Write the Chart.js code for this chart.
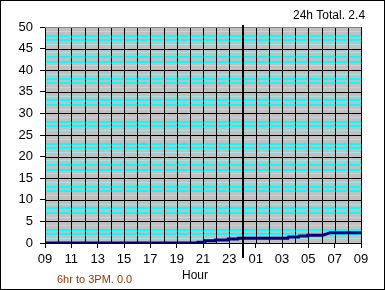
<!DOCTYPE html>
<html>
<head>
<meta charset="utf-8">
<script src="https://cdn.jsdelivr.net/npm/chart.js@4.4.1/dist/chart.umd.min.js"></script>
<style>
  html, body { margin: 0; padding: 0; background: #fff; }
  canvas { display: block; }
</style>
</head>
<body>
<canvas id="rain" width="385" height="290"></canvas>
<script>
// --------- Datos ---------
// horas desde las 09:00 (0..24) y lluvia acumulada
const HOURS = [0, 11.6, 11.62, 12.15, 12.17, 12.9, 12.92, 13.9, 13.92, 14.65, 14.67,
    18.45, 18.5, 19.28, 19.32, 19.9, 19.95, 21.1, 21.4, 21.65, 24];
const RAIN = [0, 0, 0.2, 0.2, 0.5, 0.5, 0.7, 0.7, 0.9, 0.9, 1.1,
    1.1, 1.4, 1.4, 1.6, 1.6, 1.8, 1.8, 2.1, 2.4, 2.4];
const START_HOUR = 9;
const MIDNIGHT = 15; // 09 + 15 = 00
const Y_TICKS = [0, 5, 10, 15, 20, 25, 30, 35, 40, 45, 50];
const TOTAL_24H = "24h Total. 2.4";
const TOTAL_6HR = "6hr to 3PM. 0.0";
const X_TITLE = "Hour";

const FONT = "'Liberation Sans', Arial, sans-serif";

// Fondo gris, rejilla negra, marco y textos
const decor = {
    id: "decor",
    beforeDraw(chart) {
        const { ctx, chartArea: a } = chart;
        ctx.save();
        ctx.fillStyle = "#fff";
        ctx.fillRect(0, 0, chart.width, chart.height);
        ctx.fillStyle = "#c0c0c0";
        ctx.fillRect(a.left, a.top, a.right - a.left, a.bottom - a.top);
        ctx.restore();
    },
    beforeDatasetsDraw(chart) {
        const { ctx, chartArea: a, scales } = chart;
        ctx.save();
        ctx.lineWidth = 1;
        ctx.strokeStyle = "#000";
        ctx.beginPath();
        scales.x.ticks.forEach((t) => {
            const x = Math.round(scales.x.getPixelForValue(t.value)) + 0.5;
            ctx.moveTo(x, a.top);
            ctx.lineTo(x, a.bottom);
        });
        Y_TICKS.forEach((v) => {
            if (v === 50) return;
            const y = Math.round(scales.y.getPixelForValue(v)) + 0.5;
            ctx.moveTo(a.left, y);
            ctx.lineTo(a.right, y);
        });
        ctx.stroke();
        ctx.strokeStyle = "#808080";
        ctx.beginPath();
        const yt = Math.round(scales.y.getPixelForValue(50)) + 0.5;
        ctx.moveTo(a.left, yt);
        ctx.lineTo(a.right, yt);
        ctx.stroke();
        ctx.restore();
    },
    afterDatasetsDraw(chart) {
        const { ctx, chartArea: a } = chart;
        const x = Math.round(chart.scales.x.getPixelForValue(MIDNIGHT));
        ctx.save();
        ctx.strokeStyle = "#000";
        ctx.lineWidth = 2;
        ctx.beginPath();
        ctx.moveTo(x, a.top - 2);
        ctx.lineTo(x, a.bottom + 15);
        ctx.stroke();
        ctx.restore();
    },
    afterDraw(chart) {
        const ctx = chart.ctx;
        ctx.save();
        ctx.strokeStyle = "#000";
        ctx.lineWidth = 1;
        ctx.strokeRect(0.5, 0.5, chart.width - 1, chart.height - 1);
        ctx.textBaseline = "middle";
        ctx.textAlign = "left";
        ctx.fillStyle = "#000";
        ctx.font = "12px " + FONT;
        ctx.fillText(TOTAL_24H, 293, 16);
        ctx.fillText(X_TITLE, 182, 276);
        ctx.fillStyle = "#993300";
        ctx.font = "11px " + FONT;
        ctx.fillText(TOTAL_6HR, 57, 280);
        ctx.restore();
    },
};

function hGridColor(ctx) {
    const m = ctx.tick.value % 5;
    if (m === 0) return "rgba(0,0,0,0)";
    return m === 2 || m === 3 ? "#00ffff" : "#a0e4e4";
}

new Chart(document.getElementById("rain"), {
    type: "line",
    data: {
        datasets: [{
            data: HOURS.map((h, i) => ({ x: h, y: RAIN[i] })),
            borderColor: "#000080",
            borderWidth: 3,
            pointRadius: 0,
            tension: 0,
            fill: false,
        }],
    },
    options: {
        responsive: false,
        animation: false,
        devicePixelRatio: 1,
        layout: { padding: { left: 0, top: 27, right: 24, bottom: 0 } },
        plugins: { legend: { display: false }, tooltip: { enabled: false } },
        scales: {
            x: {
                type: "linear",
                min: 0,
                max: 24,
                afterFit(s) { s.height = 47; },
                ticks: {
                    stepSize: 1,
                    autoSkip: false,
                    maxRotation: 0,
                    padding: 4,
                    color: "#000",
                    font: { family: FONT, size: 13 },
                    callback: (v) => v % 2 ? "" : String((START_HOUR + v) % 24).padStart(2, "0"),
                },
                grid: {
                    drawOnChartArea: false,
                    tickLength: 5,
                    tickColor: (c) => c.tick.value % 2 ? "rgba(0,0,0,0)" : "#000",
                },
                border: { color: "#000", width: 1 },
            },
            y: {
                min: 0,
                max: 50,
                afterFit(s) { s.width = 45; },
                afterBuildTicks(s) {
                    s.ticks = [];
                    for (let v = 0; v <= 50; v++) s.ticks.push({ value: v });
                },
                ticks: {
                    autoSkip: false,
                    padding: 7,
                    color: "#000",
                    font: { family: FONT, size: 13 },
                    callback: (v) => Y_TICKS.includes(v) ? String(v) : "",
                },
                grid: {
                    color: hGridColor,
                    lineWidth: (c) => {
                        const m = c.tick.value % 5;
                        return m === 2 || m === 3 ? 2 : 1;
                    },
                    tickLength: 5,
                    tickColor: (c) => c.tick.value % 5 ? "rgba(0,0,0,0)" : "#000",
                },
                border: { color: "#000", width: 1 },
            },
        },
    },
    plugins: [decor],
});
</script>
</body>
</html>
